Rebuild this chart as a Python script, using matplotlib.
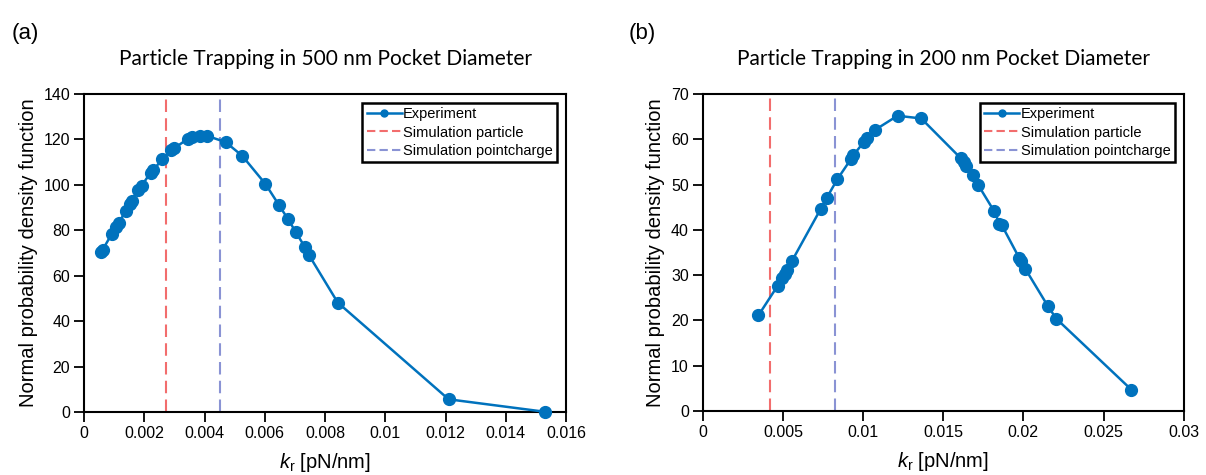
import matplotlib
matplotlib.use("Agg")
import matplotlib.pyplot as plt
from matplotlib.lines import Line2D
from matplotlib.ticker import FuncFormatter, MultipleLocator

# ---- data ----
k_a = [0.00055, 0.00062, 0.00092, 0.00106, 0.00116, 0.00139, 0.00152, 0.00160,
       0.00180, 0.00191, 0.00221, 0.00230, 0.00260, 0.00290, 0.00300, 0.00345,
       0.00359, 0.00384, 0.00408, 0.00470, 0.00525, 0.00602, 0.00646, 0.00677,
       0.00702, 0.00732, 0.00746, 0.00842, 0.01210, 0.01530]
p_a = [70.5, 71.5, 78.4, 81.6, 83.4, 88.7, 91.6, 93.0,
       97.8, 99.6, 105.4, 106.6, 111.3, 115.4, 116.2, 120.3,
       121.0, 121.6, 121.6, 118.8, 112.8, 100.4, 91.3, 84.9,
       79.4, 72.8, 69.2, 48.2, 5.6, 0.1]
sim_particle_a = 0.00271
sim_pointcharge_a = 0.00450

k_b = [0.00347, 0.00468, 0.00497, 0.00514, 0.00528, 0.00556, 0.00737, 0.00774,
       0.00840, 0.00924, 0.00940, 0.01007, 0.01024, 0.01076, 0.01215, 0.01363,
       0.01610, 0.01627, 0.01644, 0.01683, 0.01720, 0.01818, 0.01851, 0.01866,
       0.01974, 0.01985, 0.02012, 0.02154, 0.02205, 0.02674]
p_b = [21.1, 27.7, 29.4, 30.3, 31.2, 33.1, 44.7, 47.1,
       51.2, 55.6, 56.5, 59.5, 60.2, 62.1, 65.2, 64.6,
       55.8, 55.0, 54.2, 52.1, 49.8, 44.1, 41.4, 41.0,
       33.8, 33.1, 31.4, 23.1, 20.4, 4.7]
sim_particle_b = 0.00420
sim_pointcharge_b = 0.00826

titles = ["Particle Trapping in 500 nm Pocket Diameter",
          "Particle Trapping in 200 nm Pocket Diameter"]
panel_labels = ["(a)", "(b)"]
legend_labels = ["Experiment", "Simulation particle", "Simulation pointcharge"]
ylabel = "Normal probability density function"
xlabel = r"$\mathit{k}_\mathregular{r}$ [pN/nm]"

# ---- styling ----
plt.rcParams['font.family'] = ['Liberation Sans', 'DejaVu Sans']
plt.rcParams['mathtext.fontset'] = 'custom'
plt.rcParams['mathtext.rm'] = 'Liberation Sans'
plt.rcParams['mathtext.it'] = 'Liberation Sans:italic'

BLUE = '#0072BD'
RED = '#F26D6D'
LAV = '#8A93D4'

fig = plt.figure(figsize=(12.06, 4.75), dpi=100)
axA = fig.add_axes([0.0697, 0.1326, 0.3997, 0.6695])
axB = fig.add_axes([0.5827, 0.1347, 0.3988, 0.6674])

def fmt(v, pos):
    s = f"{v:.3f}".rstrip('0').rstrip('.')
    return '0' if abs(v) < 1e-12 else s

configs = [
    (axA, k_a, p_a, sim_particle_a, sim_pointcharge_a, (0, 0.016), 0.002, (0, 140), 20),
    (axB, k_b, p_b, sim_particle_b, sim_pointcharge_b, (0, 0.03), 0.005, (0, 70), 10),
]

for i, (ax, k, p, sp, spc, xl, xs, yl, ys) in enumerate(configs):
    ax.axvline(sp, color=RED, lw=1.5, ls=(0, (6, 3)), zorder=2)
    ax.axvline(spc, color=LAV, lw=1.5, ls=(0, (6, 3)), zorder=2)
    ax.plot(k, p, '-o', color=BLUE, lw=1.8, ms=8.5, mfc=BLUE, mec=BLUE,
            zorder=3, clip_on=False)
    ax.set_xlim(*xl)
    ax.set_ylim(*yl)
    ax.xaxis.set_major_locator(MultipleLocator(xs))
    ax.yaxis.set_major_locator(MultipleLocator(ys))
    ax.xaxis.set_major_formatter(FuncFormatter(fmt))
    ax.tick_params(direction='out', length=7, width=1.3, labelsize=11.5, pad=3,
                   top=False, right=False)
    for s in ax.spines.values():
        s.set_linewidth(1.5)
    ax.set_ylabel(ylabel, fontsize=14.5, labelpad=4)
    ax.set_xlabel(xlabel, fontsize=14.5, labelpad=7)
    ax.set_title(titles[i], family=['Lato', 'DejaVu Sans'], fontsize=15, pad=21)

    handles = [
        Line2D([], [], color=BLUE, lw=1.8, marker='o', ms=5, mfc=BLUE, mec=BLUE),
        Line2D([], [], color=RED, lw=1.5, ls=(0, (4, 2))),
        Line2D([], [], color=LAV, lw=1.5, ls=(0, (4, 2))),
    ]
    leg = ax.legend(handles, legend_labels, loc='upper right', fontsize=10.5,
                    frameon=True, fancybox=False, framealpha=1, edgecolor='black',
                    borderpad=0.3, labelspacing=0.3, handlelength=2.4,
                    handletextpad=0.1, borderaxespad=0.6)
    leg.get_frame().set_linewidth(1.8)

fig.text(0.010, 0.93, panel_labels[0], fontsize=16, va='center', ha='left')
fig.text(0.521, 0.93, panel_labels[1], fontsize=16, va='center', ha='left')

fig.savefig('out.png', dpi=100)
